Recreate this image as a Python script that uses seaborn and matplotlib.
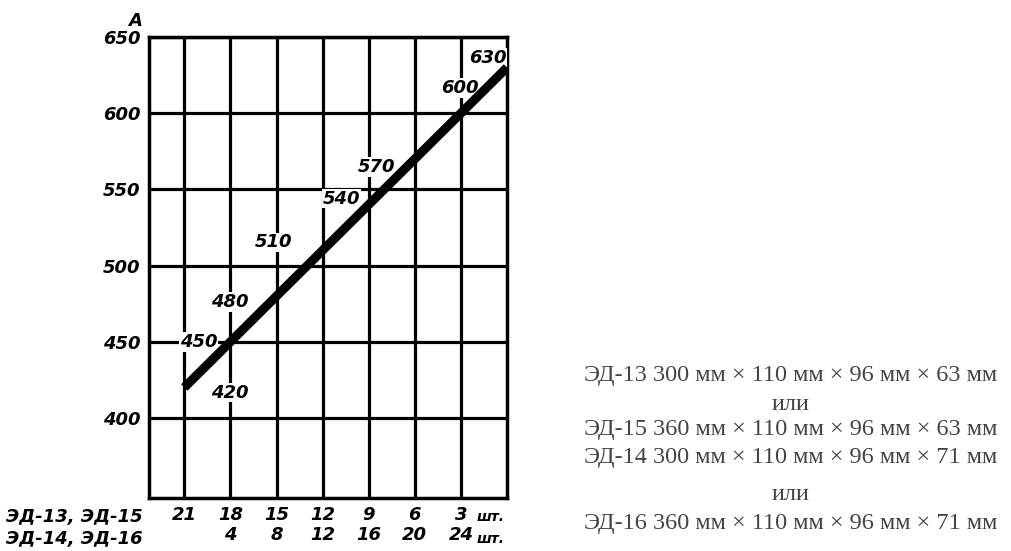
import matplotlib
matplotlib.use("Agg")
import matplotlib.pyplot as plt
import pandas as pd
import seaborn as sns

# ── data ───────────────────────────────────────────────
counts_13_15 = [21, 18, 15, 12, 9, 6, 3, 0]
current_a = [420, 450, 480, 510, 540, 570, 600, 630]
tick_counts = [21, 18, 15, 12, 9, 6, 3]
tick_row1 = ["21", "18", "15", "12", "9", "6", "3"]
tick_row2 = ["", "4", "8", "12", "16", "20", "24"]
y_ticks = [400, 450, 500, 550, 600, 650]
row_names = ["ЭД-13, ЭД-15", "ЭД-14, ЭД-16"]
unit_label = "шт."
y_unit = "А"
notes = [
    "ЭД-13 300 мм × 110 мм × 96 мм × 63 мм",
    "или",
    "ЭД-15 360 мм × 110 мм × 96 мм × 63 мм",
    "ЭД-14 300 мм × 110 мм × 96 мм × 71 мм",
    "или",
    "ЭД-16 360 мм × 110 мм × 96 мм × 71 мм",
]

# label offsets (pixels) relative to each point
label_offsets = [(45, -5), (-32, 0), (-47, -6), (-49, 8), (-27, 6),
                 (-38, -8), (-1, 25), (-19, 10)]

sns.set_theme(style="white")
DRAFT = ["DejaVu Sans"]
draft_kw = dict(family=DRAFT, fontweight="bold", fontstyle="italic",
                fontsize=13, color="black")

fig = plt.figure(figsize=(10.12, 5.51), dpi=100)
ax = fig.add_axes([0.1472, 0.0962, 0.3538, 0.8366])

df = pd.DataFrame({"n": counts_13_15, "A": current_a})
sns.lineplot(data=df, x="n", y="A", ax=ax, color="black", linewidth=6.5,
             solid_capstyle="butt", zorder=5)

ax.set_xlim(23.3, 0)
ax.set_ylim(347.5, 650)
ax.set_xticks(tick_counts)
ax.set_xticklabels([f"{a}\n{b}" for a, b in zip(tick_row1, tick_row2)],
                   linespacing=1.15, **draft_kw)
ax.set_yticks(y_ticks)
ax.set_yticklabels([str(v) for v in y_ticks], **draft_kw)
ax.tick_params(length=0, pad=6)
ax.grid(True, color="black", linewidth=2.3)
ax.set_axisbelow(True)
for s in ax.spines.values():
    s.set_color("black")
    s.set_linewidth(2.5)
ax.set_xlabel("")
ax.set_ylabel("")

# point labels with white background breaking the grid
for (n, a), (dx, dy) in zip(zip(counts_13_15, current_a), label_offsets):
    ax.annotate(str(a), xy=(n, a), xytext=(dx, dy), textcoords="offset pixels",
                ha="center", va="center", zorder=4,
                bbox=dict(facecolor="white", edgecolor="none", pad=0.5),
                **draft_kw)

# unit markers and row captions
ax.text(-0.02, 1.035, y_unit, transform=ax.transAxes, ha="right", va="center",
        **draft_kw)
trans = ax.get_xaxis_transform()
small_kw = dict(draft_kw, fontsize=10)
ax.text(2.0, -0.042, unit_label, transform=trans, ha="left", va="center",
        **small_kw)
ax.text(2.0, -0.09, unit_label, transform=trans, ha="left", va="center",
        **small_kw)
ax.text(-0.017, -0.042, row_names[0], transform=ax.transAxes, ha="right",
        va="center", **draft_kw)
ax.text(-0.017, -0.09, row_names[1], transform=ax.transAxes, ha="right",
        va="center", **draft_kw)

# battery dimensions on the right
note_y = [375, 405, 430, 457, 495, 523]
for txt, py in zip(notes, note_y):
    fig.text(791 / 1012, 1 - py / 551, txt, ha="center", va="center",
             family=["Liberation Serif", "DejaVu Serif"], fontsize=17.5,
             color="#444444")

fig.savefig("out.png", dpi=100)
